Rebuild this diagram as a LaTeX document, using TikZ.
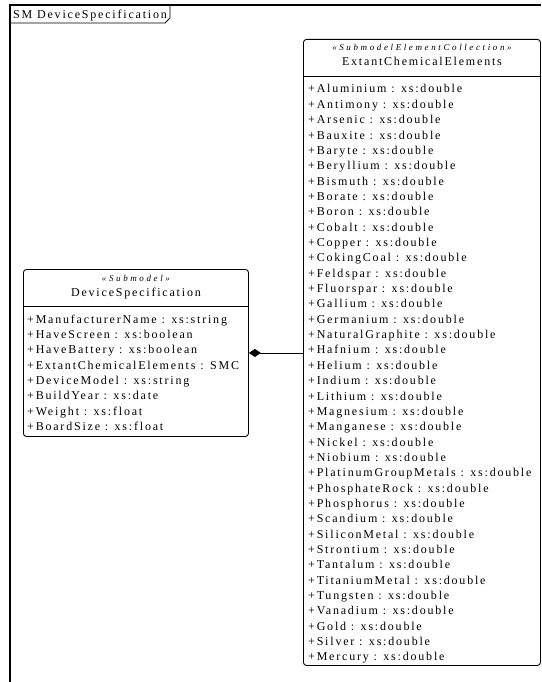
\documentclass[tikz,border=0pt]{standalone}
\usepackage{fontspec}
\setmainfont{Liberation Serif}[LetterSpace=15]
\newfontfamily\stereofont{Liberation Serif}[LetterSpace=29]
\usetikzlibrary{arrows.meta}
\tikzset{>=latex}
\tikzset{
  umlbox/.style={draw, rounded corners=3pt, line width=0.9pt, anchor=north west, inner sep=0pt},
  attr/.style={anchor=base west, inner sep=0pt, font=\fontsize{12}{14}\selectfont},
  stype/.style={anchor=base, inner sep=0pt, font=\stereofont\itshape\fontsize{9}{10}\selectfont},
  cname/.style={anchor=base, inner sep=0pt, font=\fontsize{12}{14}\selectfont}
}

\begin{document}
\begin{tikzpicture}[x=1pt, y=-1pt]
\useasboundingbox (0,0) rectangle (541,682);
% frame with name tab
\draw[line width=1.2pt] (10,682) -- (10,5) -- (541,5);
\draw[line width=0.9pt] (10,23) -- (165,23) -- (170,18) -- (170,5);
\node[attr] (frame) at (13,19) {SM DeviceSpecification};

% the two classes
\node[umlbox, minimum width=237pt, minimum height=626pt] (ece) at (303,39) {};
\node[umlbox, minimum width=225pt, minimum height=167pt] (dev) at (23,269) {};
\draw[line width=0.9pt] ([yshift=-37pt]ece.north west) -- ([yshift=-37pt]ece.north east);
\draw[line width=0.9pt] ([yshift=-37pt]dev.north west) -- ([yshift=-37pt]dev.north east);

\node[stype] (ece-st) at ([yshift=-12pt]ece.north) {«SubmodelElementCollection»};
\node[cname] (ece-nm) at ([yshift=-27pt]ece.north) {ExtantChemicalElements};
\node[stype] (dev-st) at ([yshift=-12pt]dev.north) {«Submodel»};
\node[cname] (dev-nm) at ([yshift=-27pt]dev.north) {DeviceSpecification};

% attributes
\foreach \el [count=\i from 0] in {Aluminium, Antimony, Arsenic, Bauxite, Baryte,
  Beryllium, Bismuth, Borate, Boron, Cobalt, Copper, CokingCoal, Feldspar, Fluorspar,
  Gallium, Germanium, NaturalGraphite, Hafnium, Helium, Indium, Lithium, Magnesium,
  Manganese, Nickel, Niobium, PlatinumGroupMetals, PhosphateRock, Phosphorus, Scandium,
  SiliconMetal, Strontium, Tantalum, TitaniumMetal, Tungsten, Vanadium, Gold, Silver, Mercury}
  \node[attr] (ece-\i) at (308, 93+15.35*\i) {+\el{} : xs:double};
\foreach \el/\ty [count=\i from 0] in {ManufacturerName/xs:string, HaveScreen/xs:boolean,
  HaveBattery/xs:boolean, ExtantChemicalElements/SMC, DeviceModel/xs:string,
  BuildYear/xs:date, Weight/xs:float, BoardSize/xs:float}
  \node[attr] (dev-\i) at (27, 323+15.35*\i) {+\el{} : \ty};

% composition
\draw[line width=0.9pt, {Diamond[length=12pt,width=8pt]}-] (dev.east) -- (dev.east -| ece.west);
\end{tikzpicture}
\end{document}
